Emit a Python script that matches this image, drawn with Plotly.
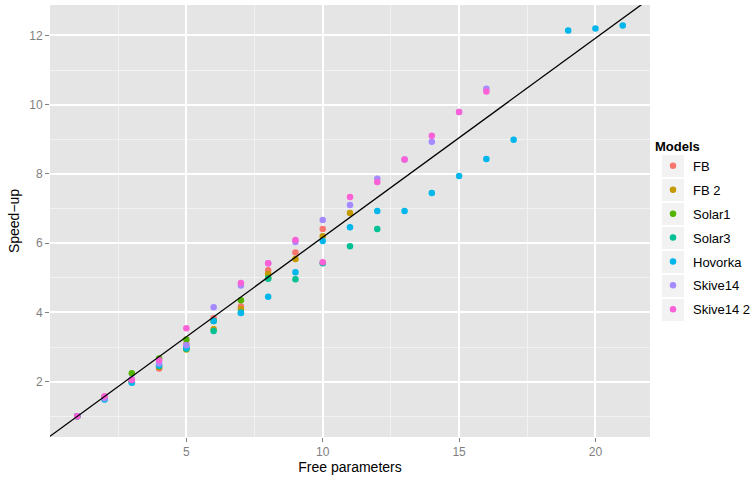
import plotly.graph_objects as go

# ---- data ----
models = ["FB", "FB 2", "Solar1", "Solar3", "Hovorka", "Skive14", "Skive14 2"]
colors = ["#F8766D", "#C49A00", "#53B400", "#00C094", "#00B6EB", "#A58AFF", "#FB61D7"]

fb_x = [1, 2, 3, 4, 5, 6, 7, 8, 9, 10]
fb_y = [1.0, 1.52, 2.0, 2.38, 3.08, 3.83, 4.17, 5.22, 5.73, 6.41]
fb2_x = [1, 2, 3, 4, 5, 6, 7, 8, 9, 10, 11]
fb2_y = [1.0, 1.52, 2.0, 2.42, 2.93, 3.51, 4.10, 5.11, 5.54, 6.20, 6.87]
solar1_x = [1, 2, 3, 4, 5, 6, 7, 8]
solar1_y = [1.0, 1.55, 2.24, 2.67, 3.22, 3.75, 4.35, 4.99]
solar3_x = [1, 2, 3, 4, 5, 6, 7, 8, 9, 10, 11, 12]
solar3_y = [1.0, 1.50, 1.98, 2.45, 2.95, 3.46, 4.00, 4.97, 4.96, 5.42, 5.91, 6.41]
hov_x = [1, 2, 3, 4, 5, 6, 7, 8, 9, 10, 11, 12, 13, 14, 15, 16, 17, 19, 20, 21]
hov_y = [1.0, 1.48, 1.97, 2.47, 2.98, 3.75, 3.98, 4.45, 5.16, 6.06, 6.46, 6.93,
         6.93, 7.45, 7.94, 8.43, 8.99, 12.14, 12.20, 12.29]
sk_x = [1, 2, 3, 4, 5, 6, 7, 8, 9, 10, 11, 12, 13, 14, 15, 16]
sk_y = [1.0, 1.52, 2.07, 2.52, 3.05, 4.15, 4.78, 5.42, 6.03, 6.67, 7.10, 7.86,
        8.42, 8.93, 9.79, 10.46]
sk2_x = [1, 2, 3, 4, 5, 7, 8, 9, 10, 11, 12, 13, 14, 15, 16]
sk2_y = [1.0, 1.58, 2.05, 2.62, 3.54, 4.85, 5.42, 6.09, 5.45, 7.33, 7.77, 8.42,
         9.10, 9.79, 10.38]

series_x = [fb_x, fb2_x, solar1_x, solar3_x, hov_x, sk_x, sk2_x]
series_y = [fb_y, fb2_y, solar1_y, solar3_y, hov_y, sk_y, sk2_y]

x_ticks = [5, 10, 15, 20]
y_ticks = [2, 4, 6, 8, 10, 12]

line_intercept = 0.42
line_slope = 0.575

x_range = [0, 22]
y_range = [0.40, 12.88]

W, H = 751, 478
ML, MR, MT, MB = 50, 101, 5, 41
PW, PH = W - ML - MR, H - MT - MB

fig = go.Figure()
for name, col, xs, ys in zip(models, colors, series_x, series_y):
    fig.add_trace(go.Scatter(
        x=xs, y=ys, mode="markers", name=name, legendgroup=name,
        marker=dict(color=col, size=6.5, line=dict(width=0)),
    ))

lx = x_range
ly = [line_intercept + line_slope * v for v in lx]
fig.add_trace(go.Scatter(x=lx, y=ly, mode="lines", showlegend=False,
                         line=dict(color="black", width=1.3), hoverinfo="skip"))

# grey legend key backgrounds (ggplot style)
def px_to_paper_x(px):
    return (px - ML) / PW

def px_to_paper_y(py):
    return 1 - (py - MT) / PH

first_key_center = 166.0
key_step = 24
shapes = []
for i in range(len(models)):
    cy = first_key_center + i * key_step
    shapes.append(dict(
        type="rect", xref="paper", yref="paper",
        x0=px_to_paper_x(662), x1=px_to_paper_x(684),
        y0=px_to_paper_y(cy + 11), y1=px_to_paper_y(cy - 11),
        fillcolor="#F2F2F2", line=dict(width=0), layer="below",
    ))

fig.update_layout(
    width=W, height=H,
    margin=dict(l=ML, r=MR, t=MT, b=MB, autoexpand=False),
    paper_bgcolor="white", plot_bgcolor="#E5E5E5",
    font=dict(family="Liberation Sans, Arial, sans-serif", size=13, color="black"),
    shapes=shapes,
    legend=dict(
        title=dict(text="<b>Models</b>", font=dict(size=13)),
        x=px_to_paper_x(653), y=px_to_paper_y(134), xanchor="left", yanchor="top",
        tracegroupgap=4, bgcolor="rgba(0,0,0,0)",
        font=dict(size=13),
    ),
    xaxis=dict(
        range=x_range, tickvals=x_ticks, showgrid=True, gridcolor="white", gridwidth=1.6,
        minor=dict(dtick=2.5, tick0=0, showgrid=True, gridcolor="#F2F2F2", gridwidth=1),
        zeroline=False, ticks="outside", ticklen=4, tickcolor="#7F7F7F", tickwidth=1,
        tickfont=dict(color="#7F7F7F", size=12),
        title=dict(text="Free parameters", font=dict(size=14), standoff=3),
        showline=False,
    ),
    yaxis=dict(
        range=y_range, tickvals=y_ticks, showgrid=True, gridcolor="white", gridwidth=1.6,
        minor=dict(dtick=1, tick0=0, showgrid=True, gridcolor="#F2F2F2", gridwidth=1),
        zeroline=False, ticks="outside", ticklen=4, tickcolor="#7F7F7F", tickwidth=1,
        tickfont=dict(color="#7F7F7F", size=12),
        title=dict(text="Speed−up", font=dict(size=14), standoff=6),
        showline=False,
    ),
)

fig.write_html("out.html")
